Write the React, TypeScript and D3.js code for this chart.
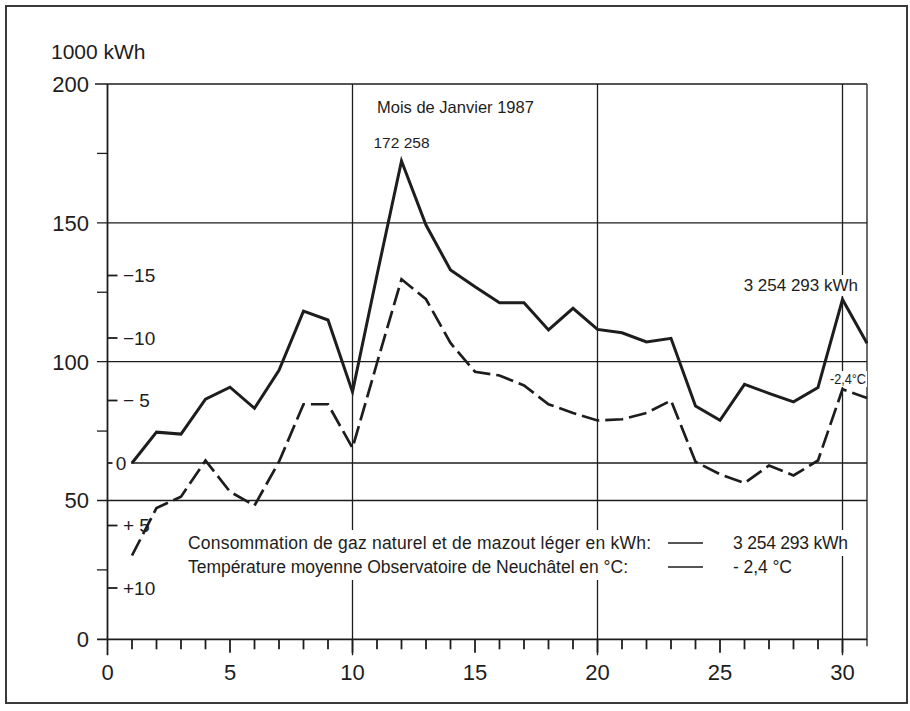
import { useRef, useEffect } from 'react'
import * as d3 from 'd3'

// Janvier 1987: daily consumption (1000 kWh) and mean temperature (°C)
const days = [1, 2, 3, 4, 5, 6, 7, 8, 9, 10, 11, 12, 13, 14, 15, 16, 17, 18, 19, 20, 21, 22, 23, 24, 25, 26, 27, 28, 29, 30, 31]
const consumption = [
  63.5, 74.6, 73.9, 86.5, 90.8, 83.2, 96.9, 118.2, 115, 89.1, 131.2, 172.3, 149.2, 133, 127, 121.2,
  121.2, 111.4, 119.2, 111.6, 110.4, 107.1, 108.4, 84, 78.9, 91.8, 88.6, 85.5, 90.7, 122.4, 106.6,
]
const temperature = [
  7.4, 3.6, 2.7, -0.2, 2.3, 3.4, -0.1, -4.7, -4.7, -1.2, -8, -14.7, -13.1, -9.6, -7.3, -7,
  -6.2, -4.7, -4, -3.4, -3.5, -4, -5, -0.1, 0.9, 1.6, 0.2, 1, -0.2, -5.9, -5.2,
]

const dayTicks = [0, 5, 10, 15, 20, 25, 30]
const dayGrid = [10, 20, 30]
const kwhTicks = [0, 50, 100, 150, 200]
const kwhGrid = [50, 100, 150]
const kwhMinor = [25, 75, 125, 175]
const tempTicks = [-15, -10, -5, 0, 5, 10]
const tempLabels = ['−15', '−10', '− 5', '0', '+ 5', '+10']

const legendLabels = [
  'Consommation de gaz naturel et de mazout léger en kWh:',
  'Température moyenne Observatoire de Neuchâtel en °C:',
]
const legendValues = ['3 254 293 kWh', '- 2,4 °C']
const title = 'Mois de Janvier 1987'
const unitLabel = '1000 kWh'
const peakLabel = '172 258'
const totalLabel = '3 254 293 kWh'
const meanLabel = '-2,4°C'

export default function App() {
  const svgRef = useRef<SVGSVGElement>(null)

  useEffect(() => {
    if (!svgRef.current) return
    const svg = d3.select(svgRef.current)
    svg.selectAll('*').remove()

    const ink = '#1d1d1d'
    const font = 'Liberation Sans, Arial, sans-serif'

    const x = d3.scaleLinear().domain([0, 31]).range([107.5, 867])
    const y = d3.scaleLinear().domain([0, 200]).range([639.3, 84])
    const t = d3.scaleLinear().domain([-15, 10]).range([275.5, 588])
    const x0 = x(0)
    const x1 = x(31)
    const y0 = y(0)

    // white box behind a text so grid lines break around it
    const withBg = (sel: d3.Selection<SVGTextElement, unknown, null, undefined>, padX = 2, padY = 1) => {
      const node = sel.node() as SVGTextElement
      const b = node.getBBox()
      svg
        .insert('rect', () => node)
        .attr('x', b.x - padX)
        .attr('y', b.y - padY)
        .attr('width', b.width + padX * 2)
        .attr('height', b.height + padY * 2)
        .attr('fill', '#fff')
      return sel
    }

    svg.append('rect').attr('width', 910).attr('height', 711).attr('fill', '#fff')

    // outer frame
    svg
      .append('rect')
      .attr('x', 6)
      .attr('y', 6)
      .attr('width', 901)
      .attr('height', 697)
      .attr('fill', 'none')
      .attr('stroke', '#3a3a3a')
      .attr('stroke-width', 2)

    const grid = svg.append('g').attr('stroke', ink).attr('stroke-width', 1.3)

    // horizontal grid lines (kWh)
    grid
      .selectAll('.hg')
      .data(kwhGrid)
      .enter()
      .append('line')
      .attr('x1', 97)
      .attr('x2', x1)
      .attr('y1', (d) => y(d))
      .attr('y2', (d) => y(d))

    // top line at 200
    grid.append('line').attr('x1', 95).attr('x2', x1).attr('y1', y(200)).attr('y2', y(200))

    // minor kWh ticks
    grid
      .selectAll('.mk')
      .data(kwhMinor)
      .enter()
      .append('line')
      .attr('x1', 97)
      .attr('x2', x0)
      .attr('y1', (d) => y(d))
      .attr('y2', (d) => y(d))

    // temperature zero line
    grid.append('line').attr('x1', 131).attr('x2', x1).attr('y1', t(0)).attr('y2', t(0))

    // vertical grid lines
    grid
      .selectAll('.vg')
      .data(dayGrid)
      .enter()
      .append('line')
      .attr('x1', (d) => x(d))
      .attr('x2', (d) => x(d))
      .attr('y1', y(200))
      .attr('y2', y0 + 16)

    // right border of plot
    grid.append('line').attr('x1', x1).attr('x2', x1).attr('y1', y(200)).attr('y2', y0 + 7)

    // axes
    const axes = svg.append('g').attr('stroke', ink).attr('stroke-width', 1.8)
    axes.append('line').attr('x1', x0).attr('x2', x0).attr('y1', y(200)).attr('y2', y0 + 16)
    axes.append('line').attr('x1', 97).attr('x2', x1).attr('y1', y0).attr('y2', y0)

    // day ticks
    axes
      .selectAll('.dt')
      .data(days.slice(0, 30))
      .enter()
      .append('line')
      .attr('x1', (d) => x(d))
      .attr('x2', (d) => x(d))
      .attr('y1', y0)
      .attr('y2', (d) => y0 + (d % 5 === 0 ? 13.5 : 10))

    // temperature ticks (inside)
    axes
      .selectAll('.tt')
      .data(tempTicks)
      .enter()
      .append('line')
      .attr('x1', x0)
      .attr('x2', (d) => x0 + (d === 0 ? 5 : 10))
      .attr('y1', (d) => t(d))
      .attr('y2', (d) => t(d))

    // x tick labels
    svg
      .append('g')
      .selectAll('text')
      .data(dayTicks)
      .enter()
      .append('text')
      .attr('x', (d) => x(d))
      .attr('y', 680)
      .attr('text-anchor', 'middle')
      .attr('font-family', font)
      .attr('font-size', 22)
      .attr('fill', ink)
      .text((d) => d)

    // kWh labels
    svg
      .append('g')
      .selectAll('text')
      .data(kwhTicks)
      .enter()
      .append('text')
      .attr('x', 89)
      .attr('y', (d) => y(d))
      .attr('dy', '0.36em')
      .attr('text-anchor', 'end')
      .attr('font-family', font)
      .attr('font-size', 22)
      .attr('fill', ink)
      .text((d) => d)

    // temperature labels
    svg
      .append('g')
      .selectAll('text')
      .data(tempTicks)
      .enter()
      .append('text')
      .attr('x', (d) => (d === 0 ? 121 : 123))
      .attr('y', (d) => t(d))
      .attr('dy', '0.36em')
      .attr('text-anchor', (d) => (d === 0 ? 'middle' : 'start'))
      .attr('font-family', font)
      .attr('font-size', 19)
      .attr('fill', ink)
      .text((_, i) => tempLabels[i])

    svg
      .append('text')
      .attr('x', 51)
      .attr('y', 59)
      .attr('font-family', font)
      .attr('font-size', 21)
      .attr('fill', ink)
      .text(unitLabel)

    svg
      .append('text')
      .attr('x', 377)
      .attr('y', 113)
      .attr('font-family', font)
      .attr('font-size', 16.5)
      .attr('fill', ink)
      .text(title)

    // series
    const kwhLine = d3
      .line<number>()
      .x((_, i) => x(days[i]))
      .y((d) => y(d))
    const tempLine = d3
      .line<number>()
      .x((_, i) => x(days[i]))
      .y((d) => t(d))

    svg
      .append('path')
      .datum(temperature)
      .attr('fill', 'none')
      .attr('stroke', ink)
      .attr('stroke-width', 2.7)
      .attr('stroke-dasharray', '18,6')
      .attr('d', tempLine)

    svg
      .append('path')
      .datum(consumption)
      .attr('fill', 'none')
      .attr('stroke', ink)
      .attr('stroke-width', 3)
      .attr('stroke-linejoin', 'miter')
      .attr('d', kwhLine)

    // annotations
    const peakIdx = consumption.indexOf(d3.max(consumption) as number)
    svg
      .append('text')
      .attr('x', x(days[peakIdx]))
      .attr('y', y(consumption[peakIdx]) - 13)
      .attr('text-anchor', 'middle')
      .attr('font-family', font)
      .attr('font-size', 15.5)
      .attr('fill', ink)
      .text(peakLabel)

    withBg(
      svg
        .append('text')
        .attr('x', 858)
        .attr('y', 291)
        .attr('text-anchor', 'end')
        .attr('font-family', font)
        .attr('font-size', 17)
        .attr('fill', ink)
        .text(totalLabel),
    )

    withBg(
      svg
        .append('text')
        .attr('x', 830)
        .attr('y', 384)
        .attr('font-family', font)
        .attr('font-size', 14.5)
        .attr('fill', ink)
        .attr('textLength', 36)
        .attr('lengthAdjust', 'spacingAndGlyphs')
        .text(meanLabel),
      1,
      0,
    )

    // legend
    const rows = [549, 573]
    const labelLen = [463, 440]
    const valueLen = [115, 59]
    rows.forEach((ry, i) => {
      withBg(
        svg
          .append('text')
          .attr('x', 188)
          .attr('y', ry)
          .attr('font-family', font)
          .attr('font-size', 17.5)
          .attr('fill', ink)
          .attr('textLength', labelLen[i])
          .attr('lengthAdjust', 'spacing')
          .text(legendLabels[i]),
        3,
        3,
      )
      svg
        .append('line')
        .attr('x1', 668)
        .attr('x2', 703)
        .attr('y1', ry - 6)
        .attr('y2', ry - 6)
        .attr('stroke', ink)
        .attr('stroke-width', 1.4)
      withBg(
        svg
          .append('text')
          .attr('x', 733)
          .attr('y', ry)
          .attr('font-family', font)
          .attr('font-size', 17.5)
          .attr('fill', ink)
          .attr('textLength', valueLen[i])
          .attr('lengthAdjust', 'spacing')
          .text(legendValues[i]),
        3,
        3,
      )
    })
  }, [])

  return (
    <svg
      ref={svgRef}
      width={910}
      height={711}
      style={{ position: 'absolute', left: 0, top: 0, background: '#fff' }}
    />
  )
}
